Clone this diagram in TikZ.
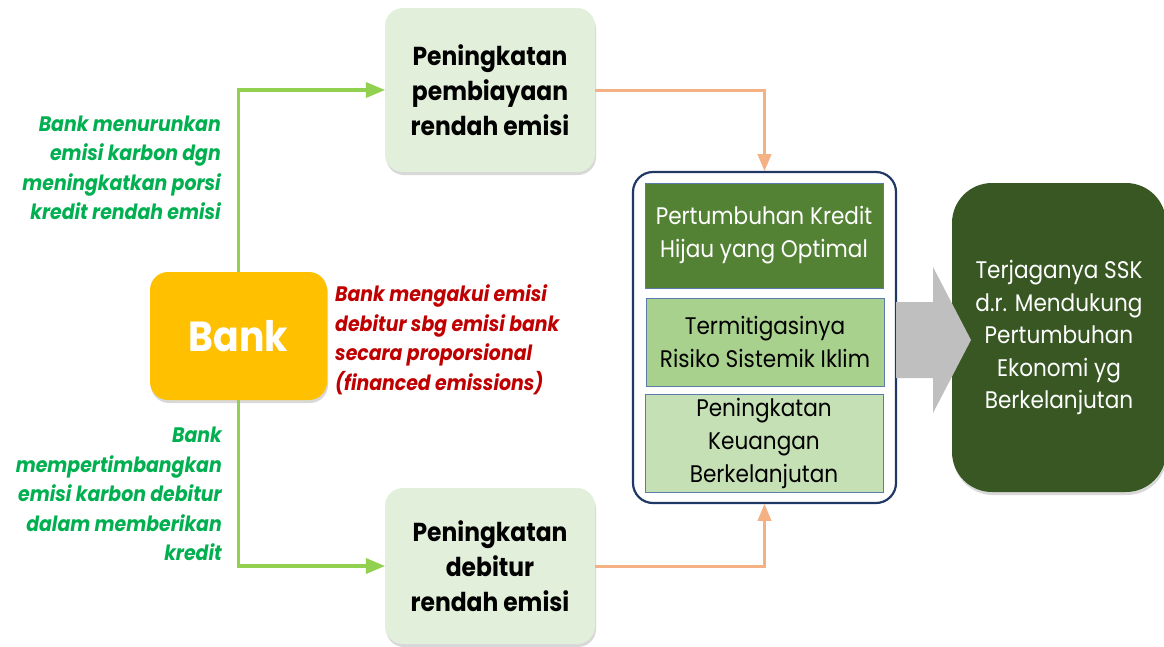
\documentclass[tikz,border=0pt]{standalone}
\usepackage{fontspec}
\setmainfont{Poppins}[FakeStretch=0.9]
\usetikzlibrary{arrows,shadows}
\usepackage{xcolor}
\definecolor{greenLine}{HTML}{92D050}
\definecolor{orangeLine}{HTML}{F4B183}
\definecolor{bankYellow}{HTML}{FFC000}
\definecolor{lowGreen}{HTML}{E2EFDA}
\definecolor{textGreen}{HTML}{00B050}
\definecolor{textRed}{HTML}{C00000}
\definecolor{navy}{HTML}{203864}
\definecolor{kreditGreen}{HTML}{548235}
\definecolor{risikoGreen}{HTML}{A9D18E}
\definecolor{keuanganGreen}{HTML}{C5E0B4}
\definecolor{tujuanGreen}{HTML}{385723}
\definecolor{arrowGray}{HTML}{BFBFBF}
\definecolor{innerBorder}{HTML}{5B7BAA}

\begin{document}
\begin{tikzpicture}[
  x=1pt,y=-1pt,
  every node/.style={align=center},
  lowBox/.style={fill=lowGreen,rounded corners=18pt,minimum width=210pt,
    font=\bfseries\fontsize{26}{35}\selectfont,
    drop shadow={shadow xshift=1pt,shadow yshift=-3pt,fill=black!30}},
  bankBox/.style={fill=bankYellow,rounded corners=18pt,minimum width=177pt,
    minimum height=128pt,text=white,font=\bfseries\fontsize{42}{46}\selectfont,
    drop shadow={shadow xshift=1pt,shadow yshift=-3pt,fill=black!30}},
  container/.style={draw=navy,line width=2.2pt,fill=white,rounded corners=20pt,
    minimum width=263pt,minimum height=331pt},
  innerBox/.style={draw=innerBorder,line width=1pt,minimum width=238pt,
    font=\fontsize{24}{33}\selectfont},
  tujuanBox/.style={fill=tujuanGreen,rounded corners=40pt,minimum width=214pt,
    minimum height=309pt,text=white,font=\fontsize{24}{32.5}\selectfont,
    drop shadow={shadow xshift=1pt,shadow yshift=-3pt,fill=black!30}},
  greenNote/.style={align=right,inner sep=0pt,text=textGreen,
    font=\bfseries\itshape\fontsize{21}{29.5}\selectfont},
  redNote/.style={align=left,inner sep=0pt,text=textRed,
    font=\bfseries\itshape\fontsize{21}{29.5}\selectfont},
  bankToBox/.style={->,>=triangle 45,line width=3.5pt,greenLine},
  boxToGoal/.style={->,>=triangle 45,line width=3pt,orangeLine}]

  \useasboundingbox (0,0) rectangle (1164,646);

  % main boxes
  \node[lowBox,minimum height=164pt] (tPembiayaan) at (490,90)
    {Peningkatan\\pembiayaan\\rendah emisi};
  \node[lowBox,minimum height=156pt] (tDebitur) at (490,566)
    {Peningkatan\\debitur\\rendah emisi};
  \node[bankBox] (bank) at (238.5,336) {Bank};

  % notes
  \node[greenNote,anchor=east] (nMenurunkan) at (221,168)
    {Bank menurunkan\\emisi karbon dgn\\meningkatkan porsi\\kredit rendah emisi};
  \node[greenNote,anchor=east] (nMempertimbangkan) at (222,494)
    {Bank\\mempertimbangkan\\emisi karbon debitur\\dalam memberikan\\kredit};
  \node[redNote,anchor=west] (nMengakui) at (335,340)
    {Bank mengakui emisi\\debitur sbg emisi bank\\secara proporsional\\(financed emissions)};

  % container with the three outcomes
  \node[container] (kotak) at (764.5,337.5) {};
  \node[innerBox,fill=kreditGreen,text=white,minimum height=105pt] (oKredit) at (764,235.5)
    {Pertumbuhan Kredit\\Hijau yang Optimal};
  \node[innerBox,fill=risikoGreen,minimum height=88pt] (oRisiko) at (765,342)
    {Termitigasinya\\Risiko Sistemik Iklim};
  \node[innerBox,fill=keuanganGreen,minimum height=95pt] (oKeuangan) at (764,443.5)
    {Peningkatan\\Keuangan\\Berkelanjutan};

  % goal
  \node[tujuanBox] (tujuan) at (1059,337.5)
    {Terjaganya SSK\\d.r. Mendukung\\Pertumbuhan\\Ekonomi yg\\Berkelanjutan};

  % big arrow
  \fill[arrowGray] (896,302) -- (933,302) -- (933,267) -- (971,340)
    -- (933,413) -- (933,378) -- (896,378) -- cycle;

  % connectors
  \draw[bankToBox] (bank.north) |- (tPembiayaan.west);
  \draw[bankToBox] (bank.south) |- (tDebitur.west);
  \draw[boxToGoal] (tPembiayaan.east) -| (kotak.north);
  \draw[boxToGoal] (tDebitur.east) -| (kotak.south);
\end{tikzpicture}
\end{document}
